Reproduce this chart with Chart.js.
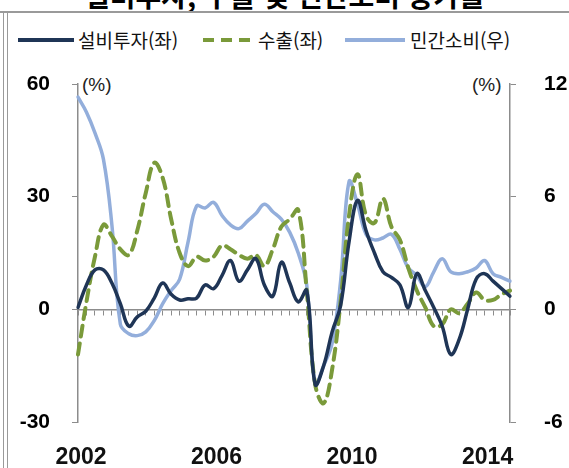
<!DOCTYPE html>
<html lang="ko">
<head>
<meta charset="utf-8">
<script src="https://cdn.jsdelivr.net/npm/chart.js@4.4.1/dist/chart.umd.min.js"></script>
<style>
    body { margin: 0; background: #fff; }
    #wrap { position: relative; width: 569px; height: 468px; overflow: hidden; font-family: "Noto Sans CJK KR", sans-serif; }
    #myChart { position: absolute; left: 0; top: 0; }
    .title { position: absolute; left: 0; top: -19px; width: 569px; text-align: center; font-size: 28px; line-height: 28px; font-weight: bold; color: #000; white-space: nowrap; }
    .hline { position: absolute; left: 0; top: 11px; width: 569px; height: 2px; background: #9a9a9a; }
    .vline { position: absolute; top: 12px; bottom: 0; width: 1px; background: #9a9a9a; }
    .leg { position: absolute; top: 28px; font-size: 19px; line-height: 24px; color: #111; white-space: nowrap; }
    .legline { position: absolute; top: 34px; }
    .unit { position: absolute; top: 73px; font-family: "Liberation Sans", Arial, sans-serif; font-size: 19px; line-height: 24px; color: #222; }
</style>
</head>
<body>
<div id="wrap">
    <div class="title">설비투자, 수출 및 민간소비 증가율</div>
    <div class="hline"></div>
    <div class="vline" style="left:3px"></div>
    <div class="vline" style="left:7px"></div>

    <svg class="legline" style="left:18px" width="56" height="12"><line x1="0" y1="6" x2="56" y2="6" stroke="#1f3556" stroke-width="4"/></svg>
    <div class="leg" style="left:78px">설비투자(좌)</div>
    <svg class="legline" style="left:203px" width="48" height="12"><line x1="0" y1="6" x2="48" y2="6" stroke="#7a9a3a" stroke-width="4" stroke-dasharray="11 7"/></svg>
    <div class="leg" style="left:258px">수출(좌)</div>
    <svg class="legline" style="left:345px" width="60" height="12"><line x1="0" y1="6" x2="60" y2="6" stroke="#93aedb" stroke-width="4"/></svg>
    <div class="leg" style="left:410px">민간소비(우)</div>

    <div class="unit" style="left:82px">(%)</div>
    <div class="unit" style="left:472px">(%)</div>

    <canvas id="myChart" width="569" height="468"></canvas>
</div>
<script>
// quarterly, 2002Q1 .. 2014Q4
const quarters = [];
for (let y = 2002; y <= 2014; y++) {
    for (let q = 1; q <= 4; q++) quarters.push(y + 'Q' + q);
}

const yearTicks = ['2002', '2006', '2010', '2014'];
const leftTicks = [-30, 0, 30, 60];
const rightTicks = [-6, 0, 6, 12];

// 설비투자 (left axis, %)
const investment = [
    0.5, 6.5, 10.5, 10.5, 7.0, 1.5, -4.5, -2.0, -0.5, 3.0,
    7.0, 4.0, 2.5, 2.8, 3.0, 6.5, 5.5, 9.0, 13.0, 7.5,
    10.5, 13.5, 6.5, 3.5, 12.5, 7.0, 2.0, 5.0, -20.0, -15.0,
    -6.0, 1.0, 18.0, 29.0, 21.0, 15.0, 10.0, 8.5, 6.5, 0.5,
    9.5, 5.0, 0.5, -4.5, -12.0, -8.0, 0.0, 8.0, 9.5, 7.5,
    5.5, 3.5
];

// 수출 (left axis, %)
const exports_ = [
    -12.0, 2.0, 14.0, 22.5, 19.5, 16.0, 14.5, 21.0, 31.0, 39.0,
    35.0, 24.0, 15.0, 11.5, 14.0, 13.0, 14.0, 17.0, 16.0, 14.5,
    13.5, 14.5, 11.5, 16.0, 22.0, 24.0, 26.5, 5.0, -20.0, -25.0,
    -16.0, 2.0, 25.0, 36.0, 25.0, 23.0, 29.5, 22.0, 18.5, 11.0,
    5.0, 0.5, -4.5, -4.0, 0.0, -1.0, 1.5, 4.5, 2.5, 2.5,
    4.0, 5.0
];

// 민간소비 (right axis, %)
const consumption = [
    11.3, 10.5, 9.4, 8.0, 4.5, -0.8, -1.3, -1.4, -1.2, -0.6,
    0.3, 1.0, 1.6, 3.6, 5.5, 5.4, 5.7, 5.0, 4.5, 4.3,
    4.7, 5.1, 5.6, 5.2, 4.8, 4.1, 3.0, 1.3, -4.0, -3.0,
    -1.8, 1.5, 6.8, 5.6, 4.0, 3.7, 3.8, 4.0, 3.2, 2.2,
    1.8, 1.2, 2.0, 2.7, 2.0, 1.9, 2.0, 2.2, 2.6, 1.9,
    1.7, 1.5
];

const axisGray = '#8c8c8c';

const config = {
    type: 'line',
    data: {
        labels: quarters,
        datasets: [
            {
                label: '설비투자(좌)',
                data: investment,
                yAxisID: 'yL',
                borderColor: '#1f3556',
                borderWidth: 3.5,
            },
            {
                label: '수출(좌)',
                data: exports_,
                yAxisID: 'yL',
                borderColor: '#7a9a3a',
                borderWidth: 4,
                borderDash: [11, 7],
            },
            {
                label: '민간소비(우)',
                data: consumption,
                yAxisID: 'yR',
                borderColor: '#93aedb',
                borderWidth: 3.5,
            },
        ]
    },
    options: {
        responsive: false,
        animation: false,
        devicePixelRatio: 1,
        layout: { padding: { top: 84, bottom: 0, left: 0, right: 0 } },
        elements: {
            point: { radius: 0 },
            line: { tension: 0.4, borderCapStyle: 'round', borderJoinStyle: 'round' }
        },
        plugins: {
            legend: { display: false },
            tooltip: { enabled: false },
        },
        scales: {
            x: {
                position: 'bottom',
                grid: { display: false, drawTicks: false },
                border: { display: false },
                ticks: {
                    autoSkip: false,
                    maxRotation: 0,
                    padding: 22,
                    labelOffset: 3,
                    color: '#111',
                    font: { family: 'Liberation Sans', size: 23, weight: 'bold' },
                    callback: function (v, i) {
                        const lab = quarters[i];
                        const yr = lab.slice(0, 4);
                        return (lab.endsWith('Q1') && yearTicks.includes(yr)) ? yr : '';
                    }
                },
                afterFit: function (s) { s.height = 46; }
            },
            x2: {
                type: 'category',
                position: { yL: 0 },
                grid: { drawOnChartArea: false, drawTicks: true, tickLength: 5, color: axisGray, lineWidth: 1 },
                border: { display: true, color: axisGray, width: 1.5 },
                ticks: { display: false, autoSkip: false },
            },
            yL: {
                position: 'left',
                min: -30,
                max: 60,
                afterBuildTicks: function (s) { s.ticks = leftTicks.map(v => ({ value: v })); },
                grid: { drawOnChartArea: false, tickLength: 6, color: axisGray },
                border: { color: axisGray, width: 1.5 },
                ticks: {
                    padding: 22,
                    color: '#000',
                    font: { family: 'Liberation Sans', size: 21, weight: 'bold' },
                },
                afterFit: function (s) { s.width = 78; }
            },
            yR: {
                position: 'right',
                min: -6,
                max: 12,
                afterBuildTicks: function (s) { s.ticks = rightTicks.map(v => ({ value: v })); },
                grid: { drawOnChartArea: false, tickLength: 6, color: axisGray },
                border: { color: axisGray, width: 1.5 },
                ticks: {
                    padding: 28,
                    color: '#000',
                    font: { family: 'Liberation Sans', size: 21, weight: 'bold' },
                },
                afterFit: function (s) { s.width = 59; }
            }
        }
    }
};

const myChart = new Chart(document.getElementById('myChart'), config);
</script>
</body>
</html>
